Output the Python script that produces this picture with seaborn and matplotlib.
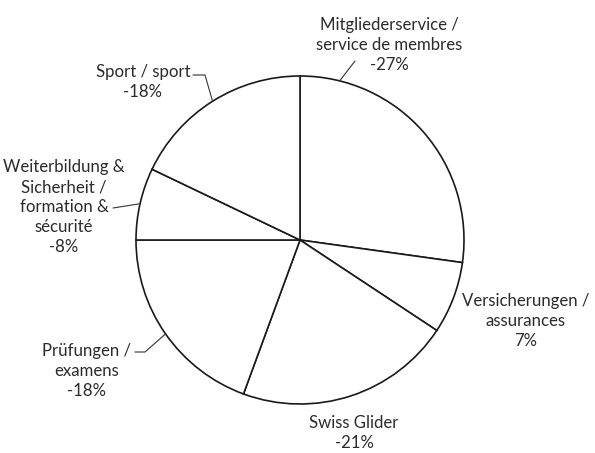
# %%

import numpy as np
import matplotlib
matplotlib.use('Agg')
import matplotlib.pyplot as plt
import seaborn as sns

# %%

# --- Data (shares, labels as printed) ---
categories = ['Mitgliederservice', 'Versicherungen', 'Swiss Glider',
              'Prüfungen', 'Weiterbildung', 'Sport']
shares = [27.2, 7.1, 21.3, 19.4, 7.1, 17.9]
label_texts = [
    'Mitgliederservice /\nservice de membres\n-27%',
    'Versicherungen /\nassurances\n7%',
    'Swiss Glider\n-21%',
    'Prüfungen /\nexamens\n-18%',
    'Weiterbildung &\nSicherheit /\nformation &\nsécurité\n-8%',
    'Sport / sport\n-18%',
]

# --- Layout (pixel coords, y measured from the top) ---
W, H = 595, 453
center_px = (300, 240)
radius_px = 164
label_pos = [(389, 45), (526, 321), (354, 433), (87, 371), (64, 207), (143, 82)]
# leader line: angle on the arc (None = wedge middle), then extra points
leaders = {
    0: (76, [(355, 61)]),
    3: (None, [(145, 352), (135, 352)]),
    4: (None, [(113, 208)]),
    5: (None, [(205, 75), (193, 75)]),
}

sns.set_theme(style='white')
plt.rcParams['font.family'] = ['Lato', 'DejaVu Sans']

fig = plt.figure(figsize=(5.95, 4.53), dpi=100)
ax = fig.add_axes([0, 0, 1, 1])

cx, cy = center_px[0], H - center_px[1]
wedges, _ = ax.pie(
    shares,
    colors=['white'] * len(shares),
    startangle=90,
    counterclock=False,
    center=(cx, cy),
    radius=radius_px,
    wedgeprops={'edgecolor': '#1a1a1a', 'linewidth': 1.2},
)

ax.set_xlim(0, W)
ax.set_ylim(0, H)
ax.set_aspect('equal')
ax.axis('off')

# --- Labels ---
for (x, y), txt in zip(label_pos, label_texts):
    ax.text(x, H - y, txt, ha='center', va='center', fontsize=12.1,
            color='#2b2b2b', linespacing=1.3)

# --- Leader lines ---
for i, (ang, pts) in leaders.items():
    w = wedges[i]
    if ang is None:
        ang = (w.theta1 + w.theta2) / 2
    a = np.deg2rad(ang)
    xs = [cx + radius_px * np.cos(a)] + [p[0] for p in pts]
    ys = [cy + radius_px * np.sin(a)] + [H - p[1] for p in pts]
    ax.plot(xs, ys, color='#333333', lw=0.8)

plt.savefig('out.png', dpi=100)
